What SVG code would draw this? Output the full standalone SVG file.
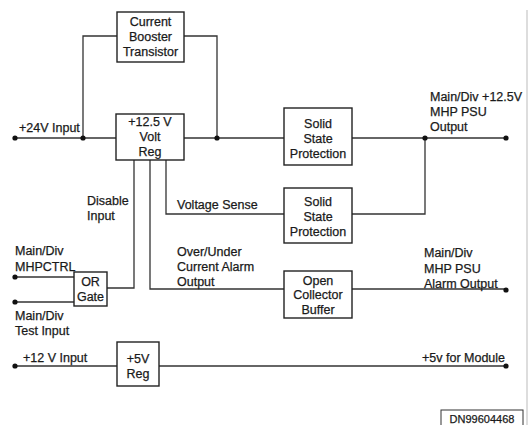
<svg xmlns="http://www.w3.org/2000/svg" width="531" height="425" viewBox="0 0 531 425">
<style>
.box{fill:#fff;stroke:#222;stroke-width:1.4}
.w{fill:none;stroke:#333;stroke-width:1.3}
.d{fill:#111}
text{font-family:"Liberation Sans",Arial,sans-serif;font-size:12.5px;fill:#1a1a1a;stroke:#1a1a1a;stroke-width:0.25}
.c{text-anchor:middle}
</style>
<rect width="531" height="425" fill="#fff"/>
<line x1="527" y1="10" x2="527" y2="425" stroke="#bbb" stroke-width="1"/>
<g id="connectors">
<polyline class="w" points="15,138 116,138"/>
<polyline class="w" points="83,138 83,36 117,36"/>
<polyline class="w" points="184,36 217,36 217,138"/>
<polyline class="w" points="184,138 284,138"/>
<polyline class="w" points="352,138 506,138"/>
<polyline class="w" points="425,138 425,214 352,214"/>
<polyline class="w" points="166,160 166,214 284,214"/>
<polyline class="w" points="134,160 134,288 107,288"/>
<polyline class="w" points="150,160 150,289 284,289"/>
<polyline class="w" points="352,289 506,289"/>
<polyline class="w" points="15,277 74,277"/>
<polyline class="w" points="15,302 74,302"/>
<polyline class="w" points="15,366 117,366"/>
<polyline class="w" points="159,366 506,366"/>
<circle class="d" cx="15" cy="138" r="2.6"/>
<circle class="d" cx="83" cy="138" r="2.6"/>
<circle class="d" cx="217" cy="138" r="2.6"/>
<circle class="d" cx="425" cy="138" r="2.6"/>
<circle class="d" cx="506" cy="138" r="2.6"/>
<circle class="d" cx="15" cy="277" r="2.6"/>
<circle class="d" cx="15" cy="302" r="2.6"/>
<circle class="d" cx="506" cy="290" r="2.6"/>
<circle class="d" cx="15" cy="366" r="2.6"/>
<circle class="d" cx="506" cy="366" r="2.6"/>
</g>
<g id="booster">
<rect class="box" x="117" y="12" width="67" height="50"/>
<text class="c" x="150.5" y="26">Current</text>
<text class="c" x="150.5" y="41">Booster</text>
<text class="c" x="150.5" y="56">Transistor</text>
</g>
<g id="voltreg">
<rect class="box" x="116" y="114" width="68" height="46"/>
<text class="c" x="150" y="126">+12.5 V</text>
<text class="c" x="150" y="141">Volt</text>
<text class="c" x="150" y="156">Reg</text>
</g>
<g id="ssp1">
<rect class="box" x="284" y="108" width="68" height="57"/>
<text class="c" x="318" y="128">Solid</text>
<text class="c" x="318" y="143">State</text>
<text class="c" x="318" y="158">Protection</text>
</g>
<g id="ssp2">
<rect class="box" x="284" y="188" width="68" height="55"/>
<text class="c" x="318" y="206">Solid</text>
<text class="c" x="318" y="221">State</text>
<text class="c" x="318" y="236">Protection</text>
</g>
<g id="ocbuffer">
<rect class="box" x="284" y="271" width="68" height="47"/>
<text class="c" x="318" y="285">Open</text>
<text class="c" x="318" y="299">Collector</text>
<text class="c" x="318" y="314">Buffer</text>
</g>
<g id="orgate">
<rect class="box" x="74" y="272" width="33" height="34"/>
<text class="c" x="90.5" y="286">OR</text>
<text class="c" x="90.5" y="301">Gate</text>
</g>
<g id="reg5v">
<rect class="box" x="117" y="342" width="42" height="44"/>
<text class="c" x="138" y="363">+5V</text>
<text class="c" x="138" y="378">Reg</text>
</g>
<g id="labels">
<text x="19" y="132">+24V Input</text>
<text x="430" y="101">Main/Div +12.5V</text>
<text x="430" y="116">MHP PSU</text>
<text x="430" y="131">Output</text>
<text x="87" y="205">Disable</text>
<text x="87" y="220">Input</text>
<text x="177" y="209">Voltage Sense</text>
<text x="15" y="255">Main/Div</text>
<text x="15" y="271">MHPCTRL</text>
<text x="15" y="320">Main/Div</text>
<text x="15" y="335">Test Input</text>
<text x="177" y="256">Over/Under</text>
<text x="177" y="271">Current Alarm</text>
<text x="177" y="286">Output</text>
<text x="424" y="257">Main/Div</text>
<text x="424" y="273">MHP PSU</text>
<text x="424" y="288">Alarm Output</text>
<text x="23" y="362">+12 V Input</text>
<text x="422" y="362">+5v for Module</text>
</g>
<g id="docid">
<rect x="441" y="410" width="82" height="18" fill="#fff" stroke="#333" stroke-width="1"/>
<text class="c" x="482" y="423" style="font-size:11px">DN99604468</text>
</g>
</svg>
